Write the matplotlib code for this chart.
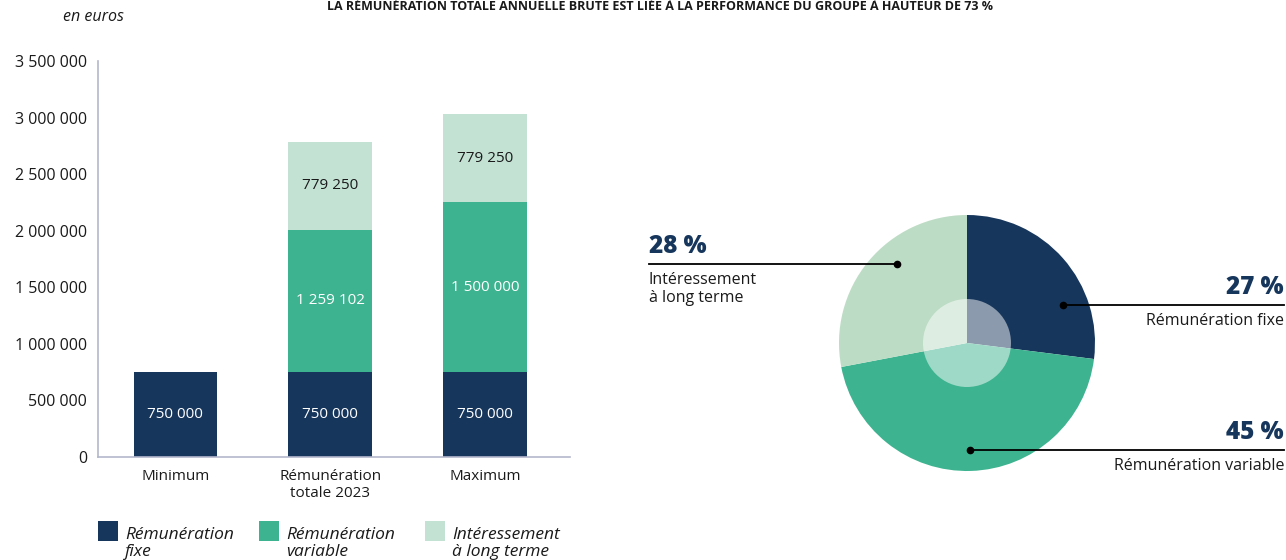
import matplotlib
matplotlib.use("Agg")
import matplotlib.pyplot as plt
from matplotlib.patches import Circle, Rectangle
from matplotlib.lines import Line2D
import numpy as np

# Data
categories = ["Minimum", "Rémunération\ntotale 2023", "Maximum"]
fixe = [750000, 750000, 750000]
variable = [0, 1259102, 1500000]
interessement = [0, 779250, 779250]
series_names = ["Rémunération\nfixe", "Rémunération\nvariable", "Intéressement\nà long terme"]
yticks = [0, 500000, 1000000, 1500000, 2000000, 2500000, 3000000, 3500000]

pie_values = [27, 45, 28]
pie_pct = ["27 %", "45 %", "28 %"]
pie_names = ["Rémunération fixe", "Rémunération variable", "Intéressement\nà long terme"]

NAVY = "#17365c"
GREEN = "#3db38f"
LIGHT = "#c3e2d4"
PIE_LIGHT = "#bddcc5"
TEXT = "#1a1a1a"
AXIS = "#b3b7cc"
colors = [NAVY, GREEN, LIGHT]

plt.rcParams["font.family"] = ["Open Sans", "DejaVu Sans"]

W, H = 1286, 560
fig = plt.figure(figsize=(W / 100, H / 100), dpi=100)


def px(x, y):
    # pixel (from top-left) -> figure fraction
    return x / W, 1 - y / H


def fmt(v):
    return f"{v:,.0f}".replace(",", " ")


# ---- stacked bar chart ----
ax = fig.add_axes([98 / W, 1 - 457 / H, (570 - 98) / W, (457 - 61) / H])
x = np.arange(len(categories))
bw = 0.54
bottom = np.zeros(len(categories))
for vals, col in zip([fixe, variable, interessement], colors):
    vals = np.array(vals, dtype=float)
    ax.bar(x, vals, bw, bottom=bottom, color=col, linewidth=0)
    for xi, v, b in zip(x, vals, bottom):
        if v > 0:
            tc = TEXT if col == LIGHT else "white"
            ax.text(xi, b + v / 2, fmt(v), ha="center", va="center",
                    color=tc, fontsize=11)
    bottom += vals

ax.set_xlim(-0.5, 2.55)
ax.set_ylim(0, 3500000)
ax.set_yticks(yticks)
ax.set_yticklabels([fmt(v) for v in yticks], fontsize=11.5, color=TEXT)
ax.set_xticks(x)
ax.set_xticklabels(categories, fontsize=11, color=TEXT, linespacing=1.15)
ax.tick_params(axis="both", length=0)
ax.tick_params(axis="y", pad=8)
ax.tick_params(axis="x", pad=9)
for s in ["top", "right"]:
    ax.spines[s].set_visible(False)
for s in ["left", "bottom"]:
    ax.spines[s].set_color(AXIS)
    ax.spines[s].set_linewidth(1.2)

# title (at the very top edge, as in the source) and unit
fig.text(*px(660, 0), "LA RÉMUNÉRATION TOTALE ANNUELLE BRUTE EST LIÉE À LA PERFORMANCE DU GROUPE À HAUTEUR DE 73 %",
         ha="center", va="top", fontsize=9, fontweight="bold", color=TEXT)
fig.text(*px(63, 17), "en euros", ha="left", va="center", fontsize=11.5,
         style="italic", color=TEXT)

# legend
leg_x = [98, 259, 425]
for lx, col, name in zip(leg_x, colors, series_names):
    fx, fy = px(lx, 541)
    fig.add_artist(Rectangle((fx, fy), 20 / W, 20 / H, color=col,
                             transform=fig.transFigure, linewidth=0))
    fig.text(*px(lx + 27, 527), name, ha="left", va="top", fontsize=12.5,
             style="italic", color=TEXT, linespacing=1.1)

# ---- pie ----
cx, cy, r = 967, 343, 128
pax = fig.add_axes([(cx - r) / W, 1 - (cy + r) / H, 2 * r / W, 2 * r / H])
pax.pie(pie_values, colors=[NAVY, GREEN, PIE_LIGHT], startangle=90,
        counterclock=False, radius=1, wedgeprops=dict(linewidth=0))
pax.add_patch(Circle((0, 0), 44 / r, color="white", alpha=0.5, linewidth=0))
pax.set_xlim(-1, 1)
pax.set_ylim(-1, 1)
pax.axis("off")

# callouts: (dot x, dot y, line end x, text x, ha)
callouts = [
    (1063, 305, 1284, 1284, "right"),
    (970, 450, 1284, 1284, "right"),
    (897, 264, 649, 649, "left"),
]
for (dx, dy, lx, tx, ha), pct, name in zip(callouts, pie_pct, pie_names):
    x0, y0 = px(dx, dy)
    x1, _ = px(lx, dy)
    fig.add_artist(Line2D([x0, x1], [y0, y0], color="black", lw=1.3,
                          transform=fig.transFigure))
    fig.add_artist(Line2D([x0], [y0], marker="o", ms=4.5, color="black",
                          transform=fig.transFigure))
    fig.text(*px(tx, dy - 5), pct, ha=ha, va="bottom", fontsize=17.5,
             fontweight="heavy", color=NAVY)
    fig.text(*px(tx, dy + 8), name, ha=ha, va="top", fontsize=11.5,
             color=TEXT, linespacing=1.2)

fig.savefig("out.png", dpi=100)
